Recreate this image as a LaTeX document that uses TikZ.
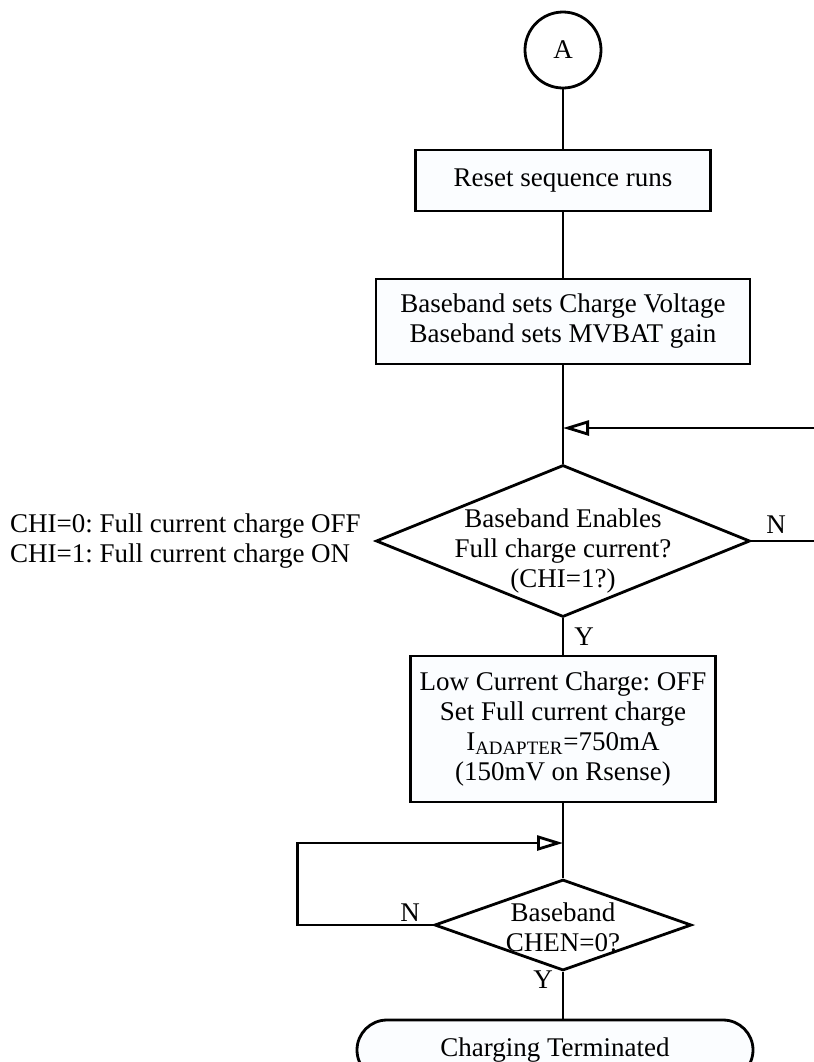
\documentclass[tikz,border=0pt]{standalone}
\usepackage{fontspec}
\setmainfont{Liberation Serif}
\usetikzlibrary{shapes.geometric,arrows.meta}
\definecolor{boxfill}{RGB}{251,253,255}
\frenchspacing
\begin{document}
\begin{tikzpicture}[x=0.5pt,y=-0.5pt,font=\fontsize{13.5pt}{15pt}\selectfont]
    % Styles
    \tikzstyle{connector}=[circle, draw, line width=1.4pt, minimum size=38pt, inner sep=0pt]
    \tikzstyle{process}=[rectangle, draw, fill=boxfill, line width=1.4pt, align=center, inner sep=0pt]
    \tikzstyle{decision}=[diamond, draw, line width=1.4pt, inner sep=0pt]
    \tikzstyle{terminal}=[rectangle, draw, fill=boxfill, rounded corners=15pt, line width=1.4pt, inner sep=0pt]
    \tikzstyle{answer}=[inner sep=0pt]
    \tikzstyle{line}=[line width=1.4pt]
    \tikzstyle{arrow}=[line width=1.4pt, -{Triangle[open, length=13pt, width=7.5pt]}]

    \useasboundingbox (0,0) rectangle (814,1062);

    % Entry point
    \node[connector] (entry) at (563,50) {A};

    % Set-up steps
    \node[process, minimum width=147.5pt, minimum height=30.5pt] (reset) at (563,180.5) {Reset sequence runs};
    \node[process, minimum width=187pt, minimum height=42.5pt] (setup) at (563,321.5) {Baseband sets Charge Voltage\\Baseband sets MVBAT gain};
    \coordinate (join1) at (563,428);

    % First decision
    \node[decision, minimum width=187pt, minimum height=76pt] (chi) at (563,541) {};
    \node[align=center] (chitext) at (563,551) {Baseband Enables\\Full charge current?\\(CHI=1?)};
    \node[align=left, anchor=west] (chinote) at (3,541) {CHI=0: Full current charge OFF\\CHI=1: Full current charge ON};
    \node[answer] (chiN) at (776,525) {N};
    \node[answer] (chiY) at (584,637) {Y};

    % Full current charge
    \node[process, minimum width=152.5pt, minimum height=73pt] (full) at (563,729) {Low Current Charge: OFF\\Set Full current charge\\I\textsubscript{ADAPTER}=750mA\\(150mV on Rsense)};
    \coordinate (join2) at (563,843);

    % Second decision
    \node[decision, minimum width=128.5pt, minimum height=45.5pt] (chen) at (563,925) {};
    \node[align=center] (chentext) at (563,927) {Baseband\\CHEN=0?};
    \node[answer] (chenN) at (410,913) {N};
    \node[answer] (chenY) at (543,980) {Y};

    % End
    \node[terminal, minimum width=198pt, minimum height=30pt] (term) at (555,1050) {Charging Terminated};

    % Connectors
    \draw[line] (entry) -- (reset);
    \draw[line] (reset) -- (setup);
    \draw[line] (setup) -- (chi);
    \draw[arrow] (chi.east) -- ++(66,0) |- (join1);
    \draw[line] (chi) -- (full);
    \draw[line] (full) -- (chen);
    \draw[arrow] (chen.west) -- ++(-136,0) |- (join2);
    \draw[line] (chen.south) -- (chen.south |- term.north);
\end{tikzpicture}
\end{document}
